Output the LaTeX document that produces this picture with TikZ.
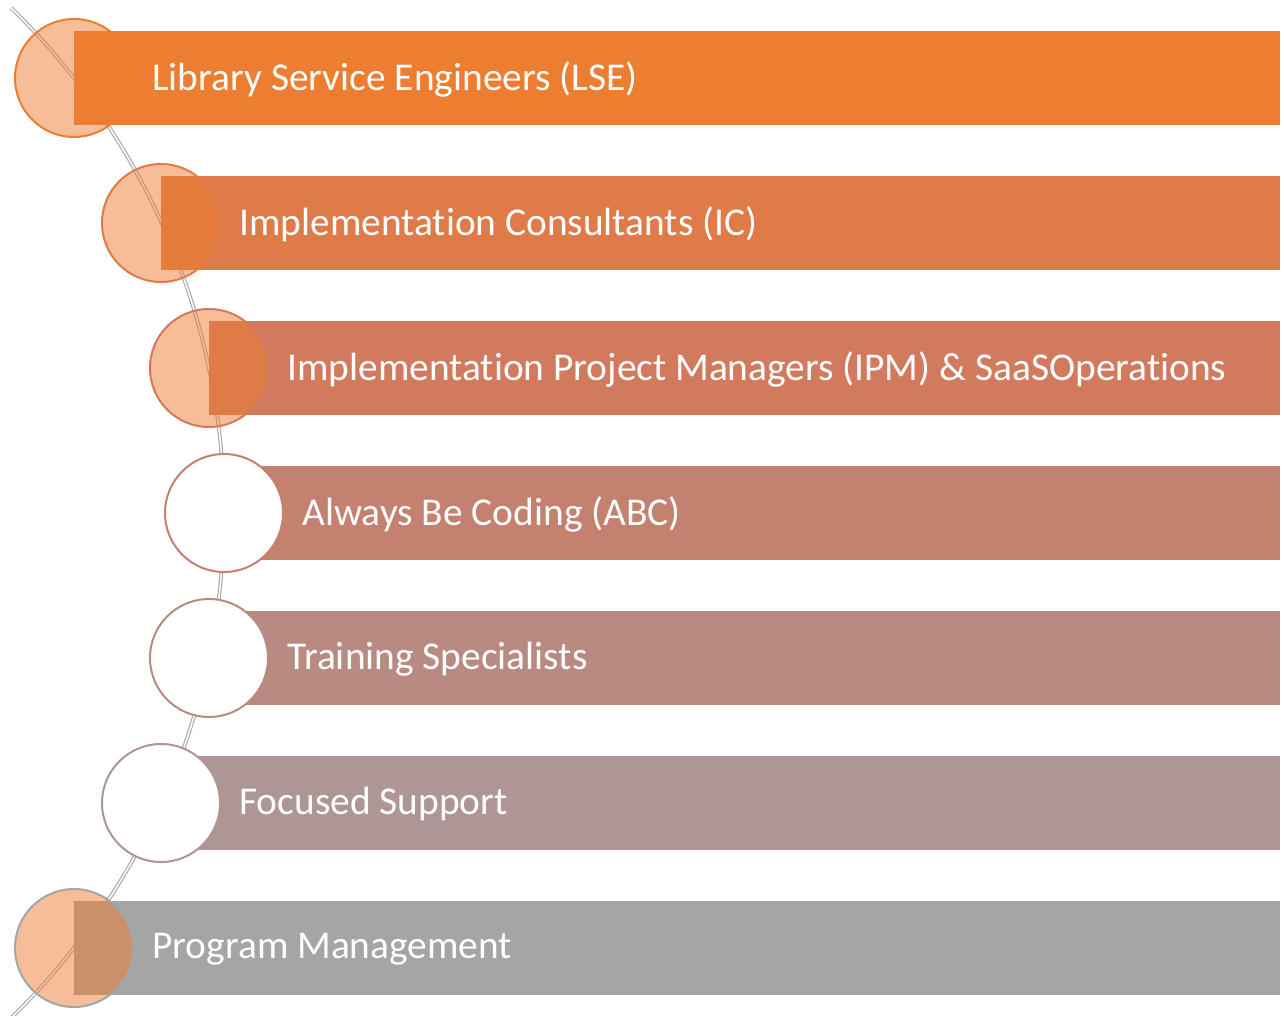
\documentclass[tikz,border=0pt]{standalone}
\usepackage{fontspec}
\setmainfont[Ligatures=NoCommon]{Carlito}
\usepackage{tikz}
\usetikzlibrary{calc}

\definecolor{barA}{RGB}{237,125,49}
\definecolor{barB}{RGB}{222,123,72}
\definecolor{barC}{RGB}{209,122,94}
\definecolor{barD}{RGB}{196,129,112}
\definecolor{barE}{RGB}{184,138,130}
\definecolor{barF}{RGB}{174,150,149}
\definecolor{barG}{RGB}{165,165,165}
\definecolor{arcline}{RGB}{165,165,165}

\begin{document}
\begin{tikzpicture}[x=0.5pt,y=-0.5pt,
  bar/.style={draw=none,anchor=west,minimum height=47pt,inner sep=0pt},
  dot/.style={circle,line width=1pt,minimum size=59pt,inner sep=0pt},
  hot/.style={dot,fill=barA,fill opacity=0.5},
  cold/.style={dot,fill=white},
  txt/.style={anchor=west,inner sep=0pt,text=white,
    font=\fontsize{19.7}{24}\selectfont}]
  \useasboundingbox (0,0) rectangle (1284,1016);
  % the curved spine
  \coordinate (spine) at (-481.75,513);
  \draw[arcline,line width=0.55pt,double=white,double distance=0.8pt]
    (spine) ++(-45.7:705.75) arc[start angle=-45.7,end angle=45.7,radius=705.75];
  % bars
  \node[bar,fill=barA,minimum width=603pt] (bLSE) at (74,78) {};
  \node[bar,fill=barB,minimum width=559.5pt] (bIC) at (161,223) {};
  \node[bar,fill=barC,minimum width=535.5pt] (bIPM) at (209,368) {};
  \node[bar,fill=barD,minimum width=528pt] (bABC) at (224,513) {};
  \node[bar,fill=barE,minimum width=535.5pt] (bTS) at (209,658) {};
  \node[bar,fill=barF,minimum width=559.5pt] (bFS) at (161,803) {};
  \node[bar,fill=barG,minimum width=603pt] (bPM) at (74,948) {};
  % circles on the spine
  \node[hot,draw=barA] (cLSE) at (74,78) {};
  \node[hot,draw=barB] (cIC) at (161,223) {};
  \node[hot,draw=barC] (cIPM) at (209,368) {};
  \node[cold,draw=barD] (cABC) at (224,513) {};
  \node[cold,draw=barE] (cTS) at (209,658) {};
  \node[cold,draw=barF] (cFS) at (161,803) {};
  \node[hot,draw=barG] (cPM) at (74,948) {};
  % labels
  \node[txt] (tLSE) at ($(bLSE.west)+(78,1)$) {Library Service Engineers (LSE)};
  \node[txt] (tIC) at ($(bIC.west)+(78,1)$) {Implementation Consultants (IC)};
  \node[txt] (tIPM) at ($(bIPM.west)+(78,1)$) {Implementation Project Managers (IPM) \& SaaSOperations};
  \node[txt] (tABC) at ($(bABC.west)+(78,1)$) {Always Be Coding (ABC)};
  \node[txt] (tTS) at ($(bTS.west)+(78,1)$) {Training Specialists};
  \node[txt] (tFS) at ($(bFS.west)+(78,1)$) {Focused Support};
  \node[txt] (tPM) at ($(bPM.west)+(78,1)$) {Program Management};
\end{tikzpicture}
\end{document}
